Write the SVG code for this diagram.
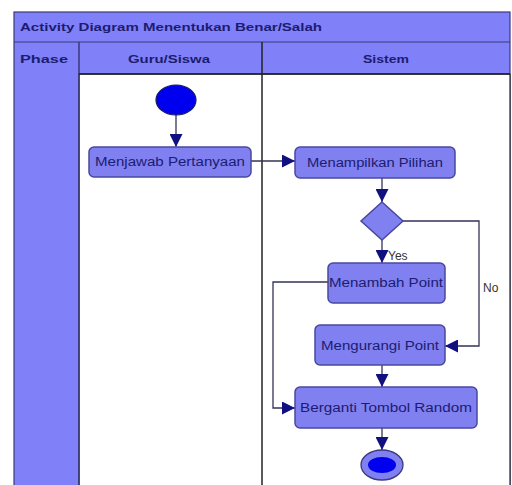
<svg xmlns="http://www.w3.org/2000/svg" width="512" height="485" viewBox="0 0 512 485">
<style>
.lane{fill:#8080f8;stroke:#3a3a7a;stroke-width:1.2}
.hdr{font-family:"Liberation Sans",Arial,sans-serif;font-weight:bold;font-size:11px;fill:#1c1c70}
.node{fill:#8080f0;stroke:#4848a0;stroke-width:1.5}
.lbl{font-family:"Liberation Sans",Arial,sans-serif;font-size:12px;fill:#1c1c70}
.arr{fill:none;stroke:#333355;stroke-width:1.3;marker-end:url(#ah)}
.small{font-family:"Liberation Sans",Arial,sans-serif;font-size:12px;fill:#333}
</style>
<defs>
<marker id="ah" viewBox="0 0 10 10" refX="10" refY="5" markerWidth="13" markerHeight="13" markerUnits="userSpaceOnUse" orient="auto">
<path d="M0,0 L10,5 L0,10 z" fill="#101080"/>
</marker>
</defs>
<rect width="512" height="485" fill="#ffffff"/>
<g id="frame">
<rect class="lane" x="14" y="12" width="496" height="480"/>
<rect x="79" y="74" width="431" height="420" fill="#ffffff" stroke="#222" stroke-width="1.2"/>
<line x1="14" y1="42" x2="510" y2="42" stroke="#3a3a7a" stroke-width="1.2"/>
<line x1="79" y1="42" x2="79" y2="485" stroke="#3a3a7a" stroke-width="1.5"/>
<line x1="262" y1="42" x2="262" y2="485" stroke="#222" stroke-width="1.5"/>
<line x1="79" y1="74" x2="510" y2="74" stroke="#222" stroke-width="1.5"/>
<text class="hdr" x="20" y="31" textLength="302" lengthAdjust="spacingAndGlyphs">Activity Diagram Menentukan Benar/Salah</text>
<text class="hdr" x="20" y="63" textLength="48" lengthAdjust="spacingAndGlyphs">Phase</text>
<text class="hdr" x="169" y="63" text-anchor="middle" textLength="82" lengthAdjust="spacingAndGlyphs">Guru/Siswa</text>
<text class="hdr" x="386" y="63" text-anchor="middle" textLength="46" lengthAdjust="spacingAndGlyphs">Sistem</text>
</g>
<g id="connectors">
<line class="arr" x1="176" y1="115" x2="176" y2="147"/>
<line class="arr" x1="251" y1="161" x2="295" y2="161"/>
<line class="arr" x1="382" y1="178" x2="382" y2="202"/>
<line class="arr" x1="382" y1="240" x2="382" y2="263"/>
<polyline class="arr" points="403,221 479,221 479,346 445,346"/>
<polyline class="arr" points="328,282 273,282 273,408 295,408"/>
<line class="arr" x1="382" y1="365" x2="382" y2="387"/>
<line class="arr" x1="382" y1="428" x2="382" y2="450"/>
<text class="small" x="388" y="260">Yes</text>
<text class="small" x="483" y="292">No</text>
</g>
<g id="start"><ellipse cx="176" cy="100" rx="20" ry="15" fill="#0000ee" stroke="#1a1a60" stroke-width="1.2"/></g>
<g id="menjawab"><rect class="node" x="89" y="147" width="162" height="30" rx="5"/><text class="lbl" x="170" y="166" text-anchor="middle" textLength="150" lengthAdjust="spacingAndGlyphs">Menjawab Pertanyaan</text></g>
<g id="menampilkan"><rect class="node" x="295" y="147" width="160" height="31" rx="5"/><text class="lbl" x="375" y="167" text-anchor="middle" textLength="136" lengthAdjust="spacingAndGlyphs">Menampilkan Pilihan</text></g>
<g id="decision"><polygon class="node" points="382,202 403,221 382,240 361,221"/></g>
<g id="menambah"><rect class="node" x="328" y="263" width="117" height="40" rx="5"/><text class="lbl" x="386" y="287" text-anchor="middle" textLength="114" lengthAdjust="spacingAndGlyphs">Menambah Point</text></g>
<g id="mengurangi"><rect class="node" x="315" y="325" width="130" height="40" rx="5"/><text class="lbl" x="380" y="350" text-anchor="middle" textLength="118" lengthAdjust="spacingAndGlyphs">Mengurangi Point</text></g>
<g id="berganti"><rect class="node" x="295" y="387" width="182" height="41" rx="5"/><text class="lbl" x="386" y="412" text-anchor="middle" textLength="172" lengthAdjust="spacingAndGlyphs">Berganti Tombol Random</text></g>
<g id="end"><ellipse cx="382" cy="465" rx="21" ry="15" fill="#8080f0" stroke="#3a3a80" stroke-width="1.3"/><ellipse cx="382" cy="465" rx="14" ry="8" fill="#0000ee"/></g>
</svg>
